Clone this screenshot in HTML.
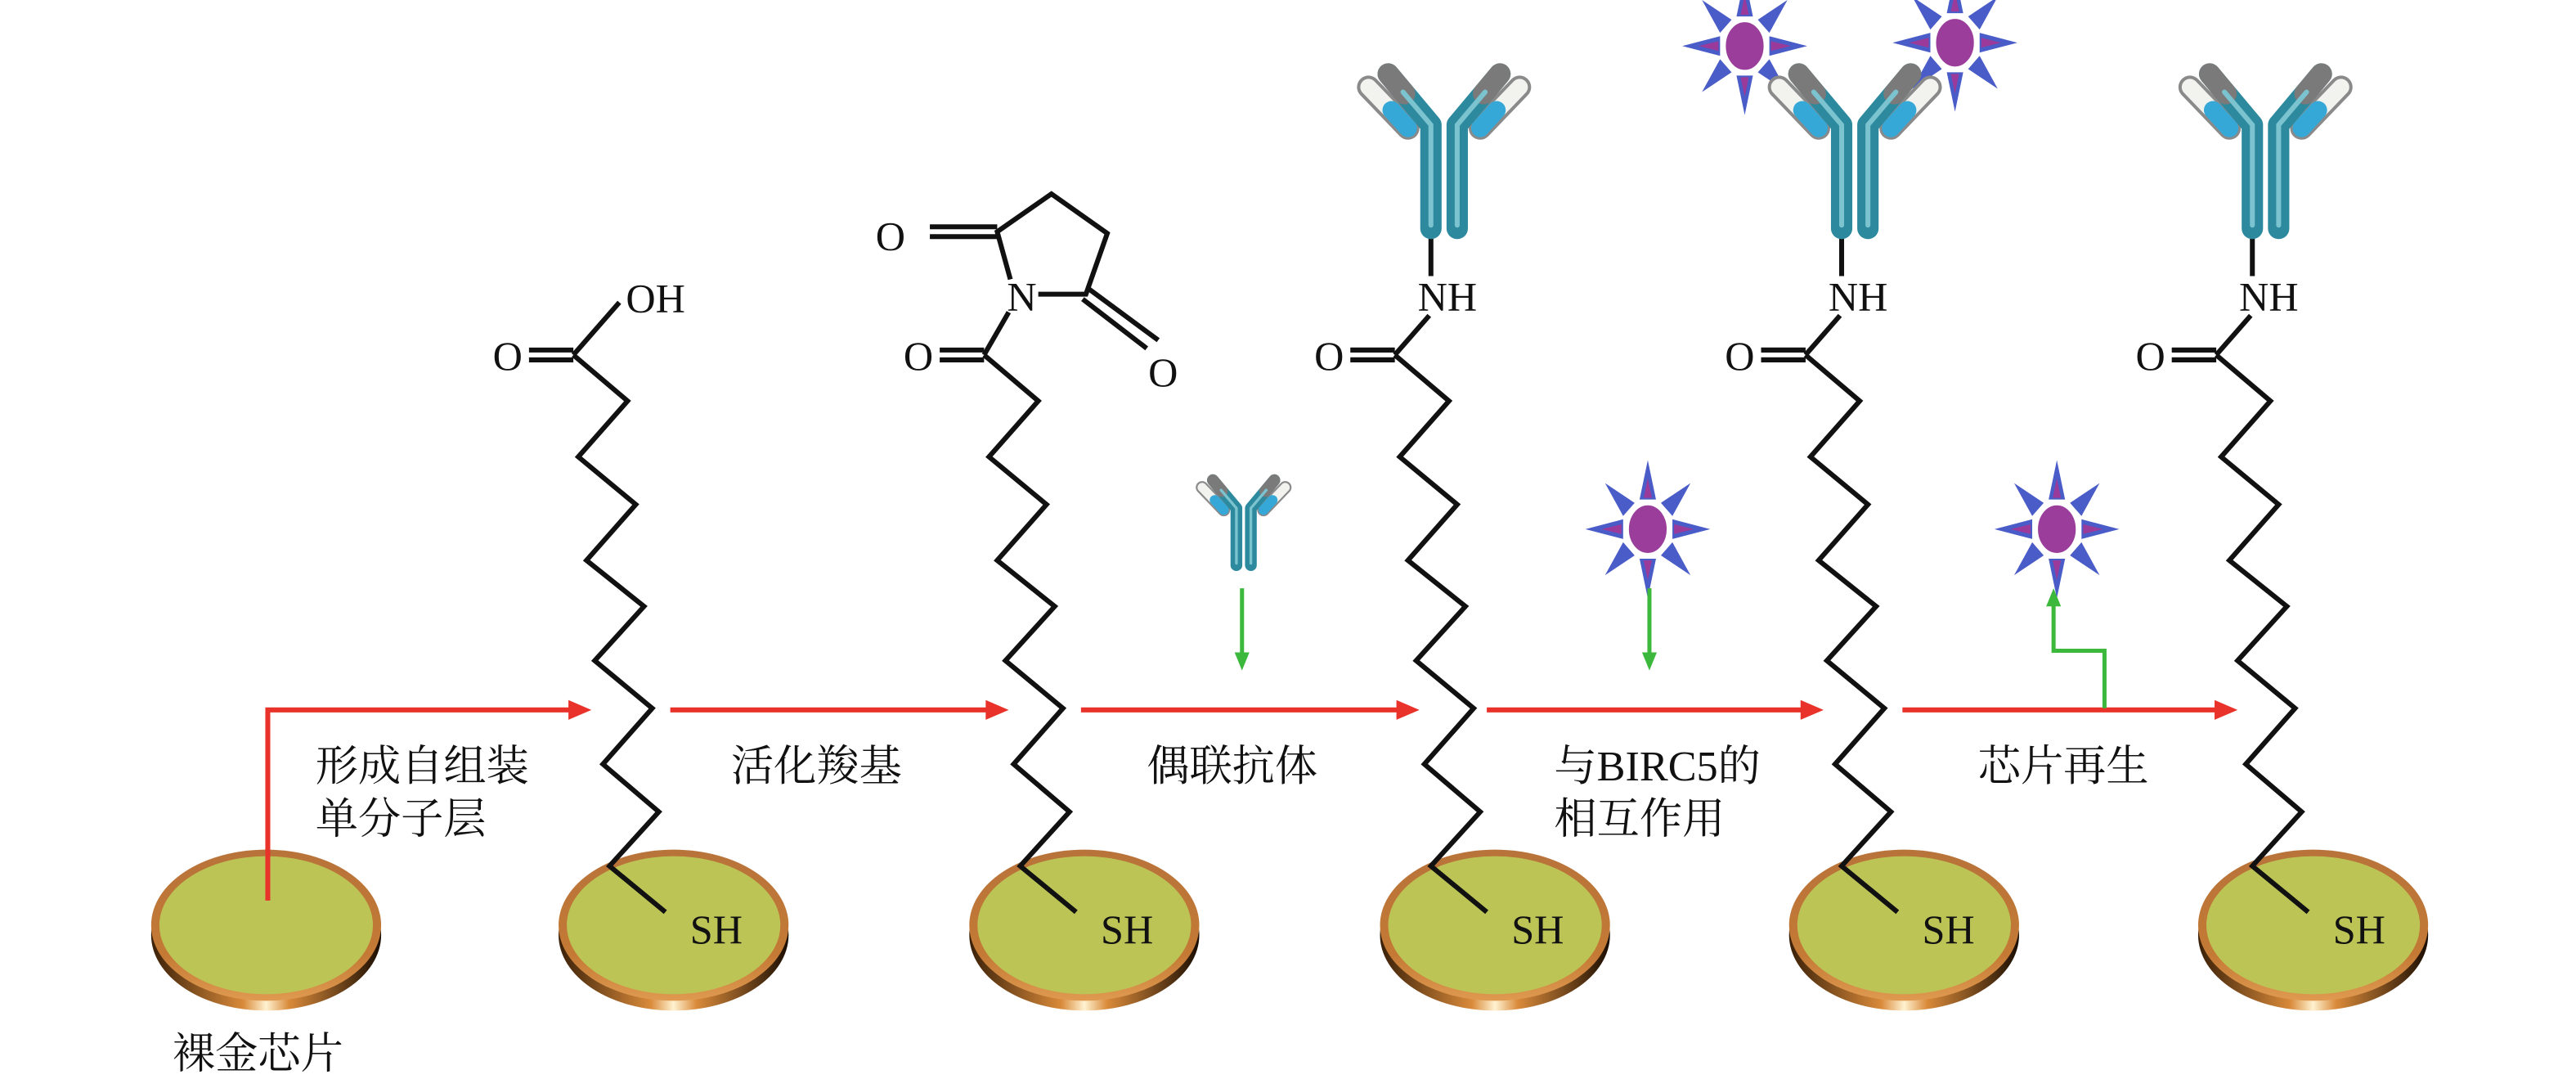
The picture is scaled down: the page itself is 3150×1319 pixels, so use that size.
<!DOCTYPE html>
<html><head><meta charset="utf-8"><style>
html,body{margin:0;padding:0;background:#fff;}
svg{display:block;}
.cn{font-family:"Liberation Serif","Noto Serif CJK SC",serif;font-size:26px;fill:#111;}
.ch{font-family:"Liberation Serif",serif;font-size:25px;fill:#111;}
</style></head><body>
<svg width="3150" height="1319" viewBox="0 0 1568 656.6" preserveAspectRatio="none" xmlns="http://www.w3.org/2000/svg">
<defs>
<linearGradient id="rim" x1="0" y1="0" x2="0" y2="1">
<stop offset="0" stop-color="#b8733a"/><stop offset="0.7" stop-color="#c47a35"/><stop offset="1" stop-color="#e09a50"/>
</linearGradient>
<linearGradient id="edge" x1="0" y1="0" x2="1" y2="0">
<stop offset="0" stop-color="#3a2008"/><stop offset="0.4" stop-color="#d98a3a"/><stop offset="0.5" stop-color="#fff2d0"/><stop offset="0.6" stop-color="#d98a3a"/><stop offset="1" stop-color="#1a0d02"/>
</linearGradient>
<g id="disk">
<ellipse cx="0" cy="6" rx="70" ry="46" fill="url(#edge)"/>
<ellipse cx="0" cy="0" rx="70" ry="46" fill="url(#rim)"/>
<ellipse cx="0" cy="0" rx="65" ry="42" fill="#bcc456"/>
</g>
<g id="chain">
<polyline points="349,216 382,244 352,278 387,307 357,341 392,369 362,402 397,431 367,465 401,494 371,527 405,555" fill="none" stroke="#111" stroke-width="3" stroke-linejoin="miter"/>
<line x1="322" y1="213" x2="349" y2="213" stroke="#111" stroke-width="3"/>
<line x1="322" y1="219" x2="349" y2="219" stroke="#111" stroke-width="3"/>
<text class="ch" x="309" y="225" text-anchor="middle">O</text>
<text class="ch" x="436" y="574" text-anchor="middle">SH</text>
</g>
<g id="ab">
<g stroke-linecap="round" fill="none">
<line x1="-22" y1="-63" x2="-46" y2="-88" stroke="#8a8a8a" stroke-width="14"/>
<line x1="-22" y1="-63" x2="-46" y2="-88" stroke="#f2f2ee" stroke-width="10"/>
<line x1="-22" y1="-63" x2="-32" y2="-74" stroke="#36a8d8" stroke-width="11"/>
<line x1="22" y1="-63" x2="46" y2="-88" stroke="#8a8a8a" stroke-width="14"/>
<line x1="22" y1="-63" x2="46" y2="-88" stroke="#f2f2ee" stroke-width="10"/>
<line x1="22" y1="-63" x2="32" y2="-74" stroke="#36a8d8" stroke-width="11"/>
<polyline points="-8,-2 -8,-65 -34,-96" stroke="#2d8a9e" stroke-width="13" stroke-linejoin="round"/>
<polyline points="8,-2 8,-65 34,-96" stroke="#2d8a9e" stroke-width="13" stroke-linejoin="round"/>
<line x1="-24" y1="-84" x2="-34" y2="-96" stroke="#7a7a7a" stroke-width="13"/>
<line x1="24" y1="-84" x2="34" y2="-96" stroke="#7a7a7a" stroke-width="13"/>
<polyline points="-8,-4 -8,-65 -25,-85" stroke="#7cc3d0" stroke-width="3"/>
<polyline points="8,-4 8,-65 25,-85" stroke="#7cc3d0" stroke-width="3"/>
</g>
</g>
<g id="amide">
<polyline points="599,216 620,192" fill="none" stroke="#111" stroke-width="3"/>
<line x1="572" y1="213" x2="599" y2="213" stroke="#111" stroke-width="3"/>
<line x1="572" y1="219" x2="599" y2="219" stroke="#111" stroke-width="3"/>
</g>
<g id="star">
<g fill="#4a5cc8">
<polygon points="0,-42 -5,-18 5,-18"/><polygon points="0,42 -5,18 5,18"/>
<polygon points="-38,0 -15,-6 -15,6"/><polygon points="38,0 15,-6 15,6"/>
<polygon points="-26,-28 -15,-8 -8,-16"/><polygon points="26,-28 15,-8 8,-16"/>
<polygon points="-26,28 -15,8 -8,16"/><polygon points="26,28 15,8 8,16"/>
</g>
<g fill="#9a3a9a">
<polygon points="0,-31 -2.5,-19 2.5,-19"/><polygon points="0,31 -2.5,19 2.5,19"/>
<polygon points="-28,0 -16,-3 -16,3"/><polygon points="28,0 16,-3 16,3"/>
</g>
<ellipse cx="0" cy="0" rx="13" ry="16" fill="#9b3d9b" stroke="#fff" stroke-width="3"/>
</g>
</defs>

<use href="#disk" x="162" y="563"/>
<use href="#disk" x="410" y="563"/>
<use href="#disk" x="660" y="563"/>
<use href="#disk" x="910" y="563"/>
<use href="#disk" x="1159" y="563"/>
<use href="#disk" x="1408" y="563"/>

<use href="#chain" x="0"/>
<use href="#chain" x="250"/>
<use href="#chain" x="500"/>
<use href="#chain" x="750"/>
<use href="#chain" x="1000"/>

<line x1="349" y1="216" x2="377" y2="184" stroke="#111" stroke-width="3"/>
<text class="ch" x="381" y="190">OH</text>

<line x1="599" y1="216" x2="614" y2="190" stroke="#111" stroke-width="3"/>
<text class="ch" x="622" y="189" text-anchor="middle">N</text>
<polyline points="615,170 607,141 640,118 674,142 661,179 632,179" fill="none" stroke="#111" stroke-width="3" stroke-linejoin="miter"/>
<line x1="566" y1="138" x2="607" y2="138" stroke="#111" stroke-width="3"/>
<line x1="566" y1="144" x2="607" y2="144" stroke="#111" stroke-width="3"/>
<text class="ch" x="542" y="152" text-anchor="middle">O</text>
<line x1="663" y1="176" x2="705" y2="207" stroke="#111" stroke-width="3"/>
<line x1="659" y1="182" x2="698" y2="212" stroke="#111" stroke-width="3"/>
<text class="ch" x="708" y="235" text-anchor="middle">O</text>

<g transform="translate(250,0)"><use href="#amide"/></g>
<g transform="translate(500,0)"><use href="#amide"/></g>
<g transform="translate(750,0)"><use href="#amide"/></g>
<text class="ch" x="881" y="189" text-anchor="middle">NH</text>
<text class="ch" x="1131" y="189" text-anchor="middle">NH</text>
<text class="ch" x="1381" y="189" text-anchor="middle">NH</text>
<line x1="871" y1="141" x2="871" y2="168" stroke="#111" stroke-width="3"/>
<line x1="1121" y1="141" x2="1121" y2="168" stroke="#111" stroke-width="3"/>
<line x1="1371" y1="141" x2="1371" y2="168" stroke="#111" stroke-width="3"/>

<use href="#star" x="1062" y="28"/>
<use href="#star" x="1190" y="26"/>

<use href="#ab" x="879" y="141"/>
<use href="#ab" x="1129" y="141"/>
<use href="#ab" x="1379" y="141"/>
<g transform="translate(757,345) scale(0.55)"><use href="#ab"/></g>

<use href="#star" x="1003" y="322"/>
<use href="#star" x="1252" y="322"/>

<g stroke="#e8322a" stroke-width="3" fill="none">
<polyline points="163,548 163,432 348,432"/>
<line x1="408" y1="432" x2="602" y2="432"/>
<line x1="658" y1="432" x2="852" y2="432"/>
<line x1="905" y1="432" x2="1098" y2="432"/>
<line x1="1158" y1="432" x2="1350" y2="432"/>
</g>
<g fill="#e8322a">
<polygon points="360,432 346,426 346,438"/>
<polygon points="614,432 600,426 600,438"/>
<polygon points="864,432 850,426 850,438"/>
<polygon points="1110,432 1096,426 1096,438"/>
<polygon points="1362,432 1348,426 1348,438"/>
</g>

<g stroke="#3cb83c" stroke-width="2.5" fill="none">
<line x1="756" y1="358" x2="756" y2="400"/>
<line x1="1004" y1="358" x2="1004" y2="400"/>
<polyline points="1281,431 1281,396 1250,396 1250,368"/>
</g>
<g fill="#3cb83c">
<polygon points="756,408 751.5,397 760.5,397"/>
<polygon points="1004,408 999.5,397 1008.5,397"/>
<polygon points="1250,358 1245.5,369 1254.5,369"/>
</g>

<text class="cn" x="192" y="475">形成自组装</text>
<text class="cn" x="192" y="507">单分子层</text>
<text class="cn" x="445" y="475">活化羧基</text>
<text class="cn" x="698" y="475">偶联抗体</text>
<text class="cn" x="946" y="475">与BIRC5的</text>
<text class="cn" x="946" y="507">相互作用</text>
<text class="cn" x="1204" y="475">芯片再生</text>
<text class="cn" x="105" y="650">裸金芯片</text>
</svg>
</body></html>
